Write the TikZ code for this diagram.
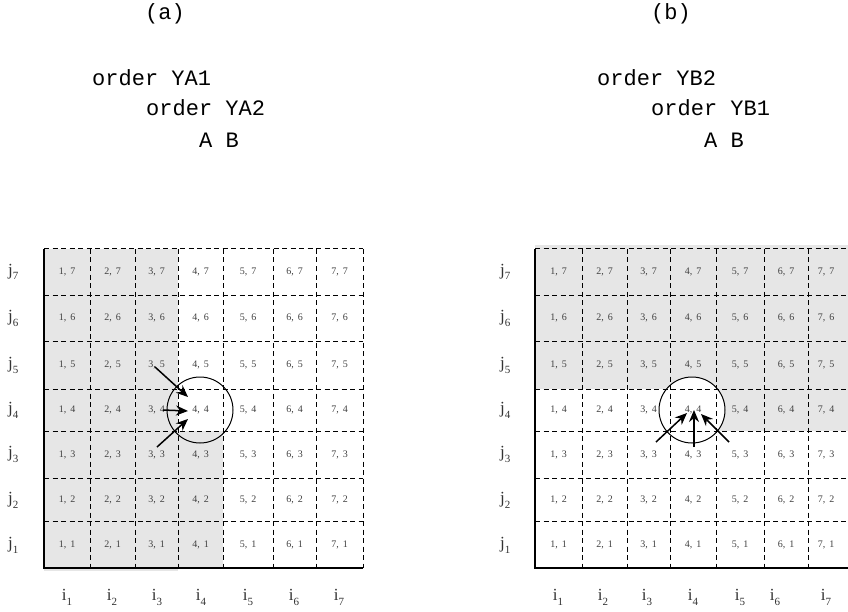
\documentclass[tikz,border=0pt]{standalone}
\usepackage{fontspec}
\setmainfont{Liberation Serif}
\setmonofont{Liberation Mono}
\usetikzlibrary{arrows.meta}
\definecolor{areafill}{HTML}{E6E6E6}
\definecolor{celltext}{HTML}{404040}
\tikzset{
  gridline/.style={line width=1pt, dash pattern=on 5pt off 3.5pt},
  frameline/.style={line width=1.3pt},
  cellnum/.style={font=\fontsize{10}{11}\selectfont, text=celltext, inner sep=0pt},
  axislabel/.style={font=\fontsize{17}{17}\selectfont, text=black!80, inner sep=0pt, anchor=base},
  caption/.style={font=\ttfamily\fontsize{22}{22}\selectfont, inner sep=0pt, anchor=west},
  ring/.style={circle, draw, line width=1pt, minimum size=66pt, inner sep=0pt},
  feed/.style={line width=1.5pt, -{Stealth[length=12pt,width=10pt]}}
}
\newcommand{\idx}[2]{#1\raisebox{-5pt}{\fontsize{11}{11}\selectfont #2}}

\begin{document}
\begin{tikzpicture}[x=1pt,y=-1pt]
\path[use as bounding box] (0,0) rectangle (848,612);
\clip (0,0) rectangle (848,612);

% ---- panel (a) ----
\node[caption, anchor=center] (tagA) at (165,14) {(a)};
\node[caption] (ya1) at (92,78) {order YA1};
\node[caption] (ya2) at (146,108) {order YA2};
\node[caption] (abA) at (199,140) {A B};

\fill[areafill] (44,249) rectangle (178,571);
\fill[areafill] (178,431) rectangle (223,568);
\node[ring] (ringA) at (200,410) {};

\foreach \x in {90,135,178,223,273,316,363}
  \draw[gridline] (\x,249) -- (\x,568);
\foreach \y in {249,295,341,389,431,478,521}
  \draw[gridline] (44,\y) -- (363,\y);
\draw[frameline] (44,249) -- (44,568) -- (363,568);

\foreach \xa/\xb [count=\c] in {44/90,90/135,135/178,178/223,223/273,273/316,316/363}
  \foreach \ya/\yb [count=\r] in {521/568,478/521,431/478,389/431,341/389,295/341,249/295}
    \node[cellnum] (a\c\r) at ({(\xa+\xb)/2},{(\ya+\yb)/2}) {\c,\hspace{4pt}\r};

\foreach \y [count=\r] in {545,500,454,410,365,318,272}
  \node[axislabel, anchor=base west] (ja\r) at (8,\y+3) {\idx{j}{\r}};
\foreach \x [count=\c] in {67,112,157,201,248,294,339}
  \node[axislabel] (ia\c) at (\x,600) {\idx{i}{\c}};

\coordinate (fa1) at (155,367); \coordinate (ta1) at (188,397);
\coordinate (fa2) at (163,410); \coordinate (ta2) at (188,411);
\coordinate (fa3) at (157,447); \coordinate (ta3) at (188,419);
\draw[feed] (fa1) -- (ta1);
\draw[feed] (fa2) -- (ta2);
\draw[feed] (fa3) -- (ta3);

% ---- panel (b) ----
\node[caption, anchor=center] (tagB) at (671,14) {(b)};
\node[caption] (yb2) at (597,78) {order YB2};
\node[caption] (yb1) at (651,108) {order YB1};
\node[caption] (abB) at (704,140) {A B};

\fill[areafill] (535,245) rectangle (848,389);
\fill[areafill] (716,389) rectangle (848,431);
\node[ring, fill=white] (ringB) at (692,410) {};

\foreach \x in {582,627,670,716,764,808}
  \draw[gridline] (\x,249) -- (\x,568);
\foreach \y in {249,295,341,389,431,478,521}
  \draw[gridline] (535,\y) -- (848,\y);
\draw[frameline] (535,249) -- (535,568) -- (848,568);

\foreach \xa/\xb [count=\c] in {535/582,582/627,627/670,670/716,716/764,764/808,808/844}
  \foreach \ya/\yb [count=\r] in {521/568,478/521,431/478,389/431,341/389,295/341,249/295}
    \node[cellnum] (b\c\r) at ({(\xa+\xb)/2},{(\ya+\yb)/2}) {\c,\hspace{4pt}\r};

\foreach \y [count=\r] in {545,500,454,410,365,318,272}
  \node[axislabel, anchor=base west] (jb\r) at (500,\y+3) {\idx{j}{\r}};
\foreach \x [count=\c] in {558,603,647,693,740,775,826}
  \node[axislabel] (ib\c) at (\x,600) {\idx{i}{\c}};

\coordinate (fb1) at (656,442); \coordinate (tb1) at (687,413);
\coordinate (fb2) at (694,447); \coordinate (tb2) at (694,410);
\coordinate (fb3) at (729,442); \coordinate (tb3) at (701,414);
\draw[feed] (fb1) -- (tb1);
\draw[feed] (fb2) -- (tb2);
\draw[feed] (fb3) -- (tb3);
\end{tikzpicture}
\end{document}
